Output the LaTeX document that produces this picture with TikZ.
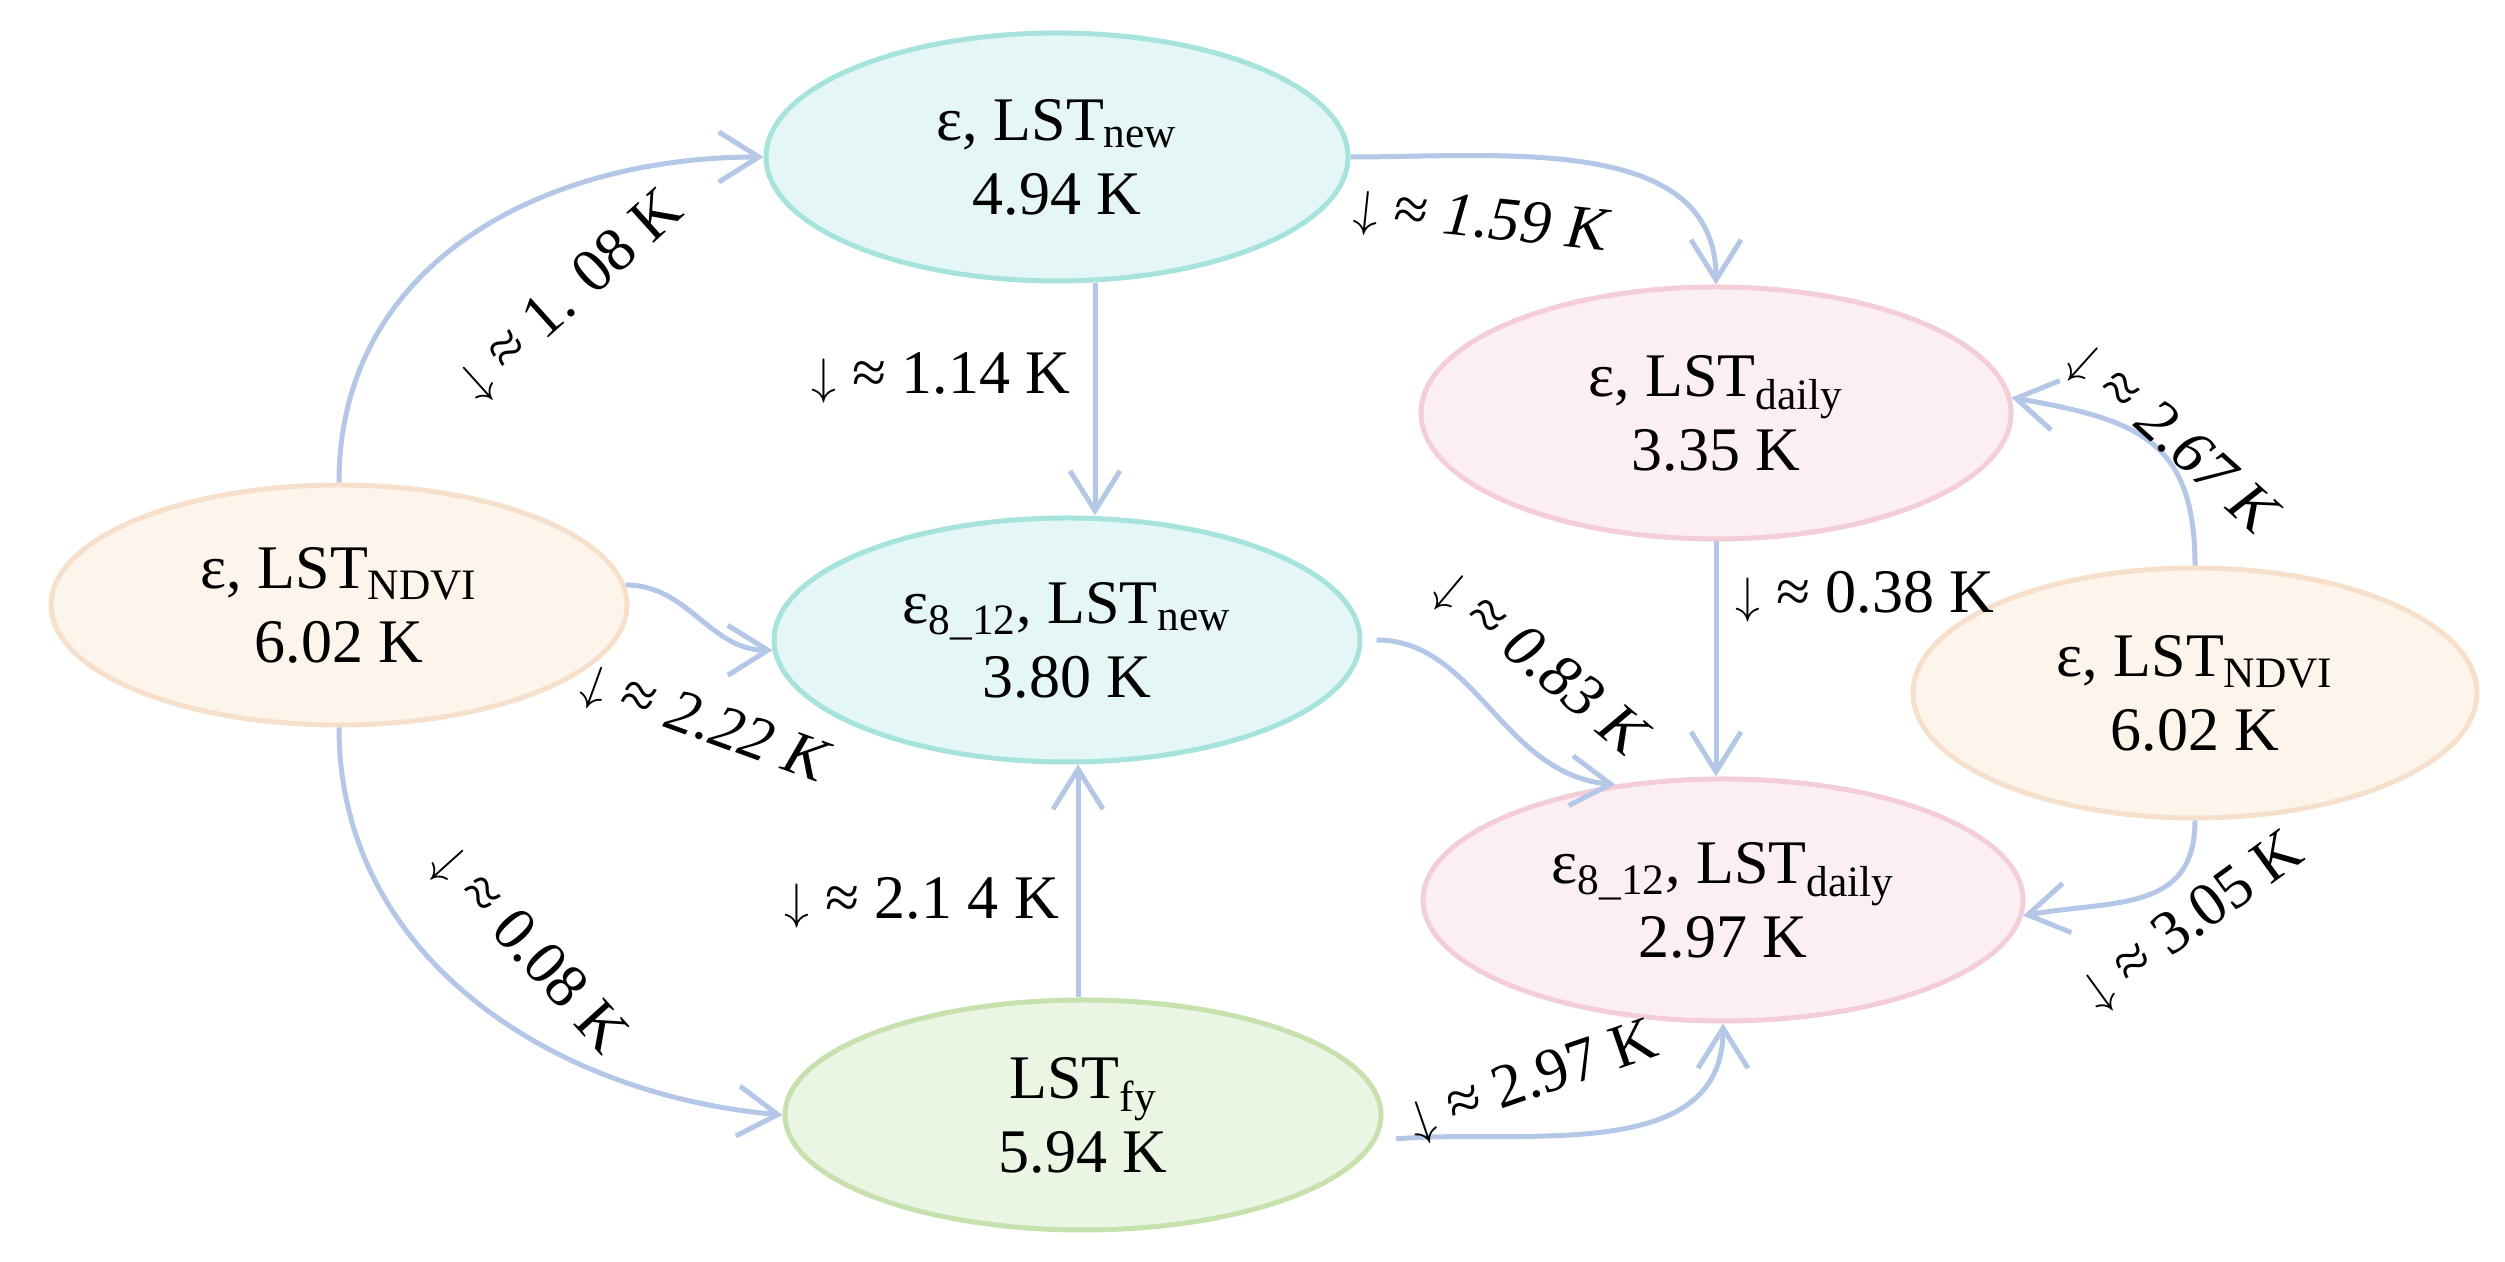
\documentclass[tikz,border=0pt]{standalone}
\usepackage{fontspec}
\setmainfont{Liberation Serif}
\usetikzlibrary{arrows.meta,shapes.geometric}
\definecolor{lnc}{HTML}{B4C7E7}
\definecolor{cyfill}{HTML}{E4F6F6}
\definecolor{cyline}{HTML}{A6E3DC}
\definecolor{orfill}{HTML}{FDF4EC}
\definecolor{orline}{HTML}{F6E0CC}
\definecolor{pkfill}{HTML}{FCEFF2}
\definecolor{pkline}{HTML}{F4CED7}
\definecolor{grfill}{HTML}{EBF5E4}
\definecolor{grline}{HTML}{C6E0AE}
\newcommand{\dnar}{$\downarrow$}
\begin{document}
\begin{tikzpicture}[x=0.5pt,y=0.5pt,
  every node/.style={font=\fontsize{31}{37}\selectfont},
  ell/.style={ellipse, line width=2.5pt, inner sep=0pt, align=center},
  cyell/.style={ell, fill=cyfill, draw=cyline},
  orell/.style={ell, fill=orfill, draw=orline},
  pkell/.style={ell, fill=pkfill, draw=pkline},
  grell/.style={ell, fill=grfill, draw=grline},
  conn/.style={draw=lnc, line width=2.5pt, -{Straight Barb[length=20pt,width=25pt]}},
  lbl/.style={inner sep=0pt, text=black}]
\useasboundingbox (0,0) rectangle (2505,1262);

\node[cyell, minimum width=291pt, minimum height=124pt] (new) at (1057,1105) {ε, LST\textsubscript{new}\\4.94 K};
\node[cyell, minimum width=293pt, minimum height=122pt] (n8new) at (1067,622) {ε\textsubscript{8\_12}, LST\textsubscript{new}\\3.80 K};
\node[grell, minimum width=298pt, minimum height=115pt] (fy) at (1083,147) {LST\textsubscript{fy}\\5.94 K};
\node[orell, minimum width=288pt, minimum height=120pt] (ndviL) at (339,657) {ε, LST\textsubscript{NDVI}\\6.02 K};
\node[pkell, minimum width=295pt, minimum height=126pt] (daily) at (1716,849) {ε, LST\textsubscript{daily}\\3.35 K};
\node[pkell, minimum width=300pt, minimum height=121pt] (d8) at (1723,362) {ε\textsubscript{8\_12}, LST\textsubscript{daily}\\2.97 K};
\node[orell, minimum width=282pt, minimum height=125pt] (ndviR) at (2195,569) {ε, LST\textsubscript{NDVI}\\6.02 K};

\draw[conn] (ndviL.north) to[out=90,in=180,looseness=1.05] (new.west);
\draw[conn] (ndviL.south) to[out=-90,in=175] (fy.west);
\draw[conn] (ndviL.4) to[out=0,in=180] (n8new.182);
\draw[conn] ([xshift=19pt]new.south) -- ([xshift=14pt]n8new.north);
\draw[conn] ([xshift=-2.5pt]fy.north) -- ([xshift=5.5pt]n8new.south);
\draw[conn] (new.east) to[out=0,in=90] (daily.north);
\draw[conn] (daily.south) -- (daily.south |- d8.north);
\draw[conn] (ndviR.north) to[out=90,in=-10,looseness=1.3] (daily.3);
\draw[conn] (ndviR.south) to[out=-90,in=10,looseness=1.2] (d8.-3);
\draw[conn, shorten <=7pt] (n8new.east) to[out=0,in=175] (d8.133);
\draw[conn, shorten <=10pt] (fy.-5) to[out=5,in=-90] (d8.south);

\node[lbl, rotate=42] (l108) at (571,966) {\dnar{} ≈ 1. 08 K};
\node[lbl] (l114) at (941,884) {\dnar{} ≈ 1.14 K};
\node[lbl, rotate=-6] (l159) at (1482,1040) {\dnar{} ≈ \textit{1.59 K}};
\node[lbl] (l038) at (1865,665) {\dnar{} ≈ 0.38 K};
\node[lbl, rotate=-42] (l267) at (2172,822) {\dnar{} ≈ \textit{2.67 K}};
\node[lbl, rotate=-40] (l083) at (1540,597) {\dnar{} ≈ \textit{0.83 K}};
\node[lbl, rotate=36] (l305) at (2193,340) {\dnar{} ≈ 3.05 K};
\node[lbl, rotate=19] (l297) at (1533,180) {\dnar{} ≈ 2.97 K};
\node[lbl, rotate=-20] (l222) at (705,537) {\dnar{} ≈ \textit{2.22 K}};
\node[lbl, rotate=-48] (l008) at (528,312) {\dnar{} ≈ 0.08 K};
\node[lbl] (l214) at (922,359) {\dnar{} ≈ 2.1 4 K};
\end{tikzpicture}
\end{document}
